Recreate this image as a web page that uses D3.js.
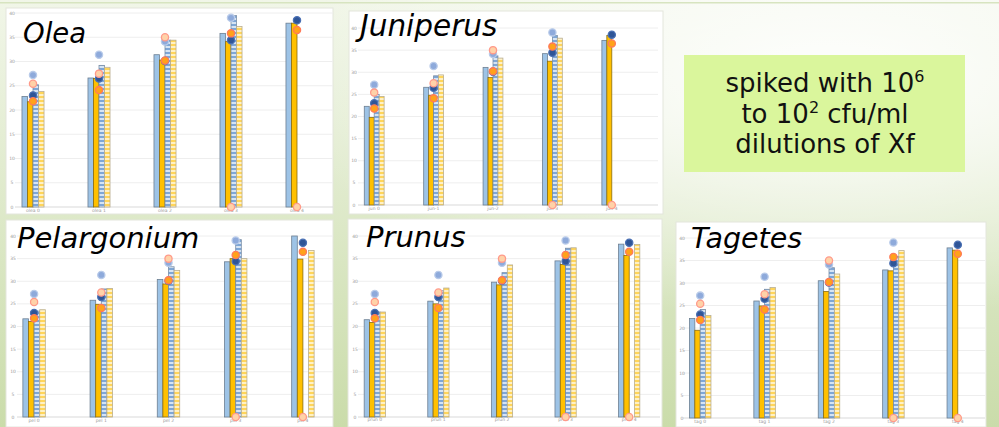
<!DOCTYPE html>
<html><head><meta charset="utf-8">
<script src="https://cdn.jsdelivr.net/npm/d3@7"></script>
<style>html,body{margin:0;padding:0;overflow:hidden;background:#fff}</style>
</head><body><svg id="c" width="999" height="427"></svg>
<script>
// ---------- DATA ----------
const yTicks = [0,5,10,15,20,25,30,35,40];

const oleaLabels = ["olea 0","olea 1","olea 2","olea 3","olea 4"];
const oleaBars = [
  [22.8, 26.6, 31.4, 35.8, 37.9],
  [21.7, 26.5, 30.3, 34.1, 37.9],
  [25.2, 29.2, 34.4, 39.5, null],
  [23.8, 28.8, 34.4, 37.2, null]
];
const junLabels = ["jun 0","jun-1","jun-2","jun-3","jun-4"];
const junBars = [
  [22.3, 26.6, 31.1, 34.2, 37.2],
  [19.8, 24.8, 28.8, 32.5, 38.3],
  [25.0, 29.2, 33.7, 38.3, null],
  [24.5, 29.4, 33.2, 37.7, null]
];
const pelLabels = ["pel 0","pel 1","pel 2","pel 3","pel 4"];
const pelBars = [
  [21.7, 25.8, 30.4, 34.3, 40.0],
  [21.1, 24.9, 29.4, 35.0, 34.9],
  [23.4, 28.3, 33.2, 39.2, null],
  [23.7, 28.4, 32.4, 35.0, 36.8]
];
const prunLabels = ["prun 0","prun 1","prun 2","prun 3","prun 4"];
const prunBars = [
  [21.5, 25.6, 29.8, 34.5, 38.2],
  [20.9, 25.0, 29.2, 33.7, 35.7],
  [23.2, 27.9, 31.9, 37.3, null],
  [23.2, 28.5, 33.6, 37.4, 38.1]
];
const tagLabels = ["tag 0","tag 1","tag 2","tag 3","tag 4"];
const tagBars = [
  [22.1, 26.0, 30.5, 32.9, 37.8],
  [19.5, 24.9, 28.1, 32.7, 37.3],
  [24.1, 28.6, 33.4, 35.9, null],
  [22.8, 29.0, 32.0, 37.2, null]
];
// reference dots (same in every panel)
const dotLightBlue = [27.2, 31.4, 34.1, 39.0, null];
const dotPink      = [25.4, 27.5, 35.0, 0, 0];
const dotDarkBlue  = [23.0, 26.5, 30.1, 34.4, 38.5];
const dotOrange    = [21.8, 24.1, 30.2, 35.8, 36.5];

const noteLines = ["spiked with 10", "to 10", "dilutions of Xf"];

// ---------- LAYOUT ----------
const panels = [
  {title:"Olea", labels:oleaLabels, bars:oleaBars, box:[6,8,333,214], xr:[0,330], yr:[207,13], grid:[15,333], tickX:12, labY:212, tt:[23,43], fs:27.5},
  {title:"Juniperus", labels:junLabels, bars:junBars, box:[349,11,663,214], xr:[344.5,641.5], yr:[205,28], grid:[358,658], tickX:354, labY:210, tt:[360,36], fs:29.5},
  {title:"Pelargonium", labels:pelLabels, bars:pelBars, box:[6,220,333,427], xr:[0.5,336.5], yr:[417,236], grid:[17,333], tickX:13, labY:422, tt:[17,248], fs:29},
  {title:"Prunus", labels:prunLabels, bars:prunBars, box:[348,219,662,427], xr:[343,661], yr:[417,236], grid:[358,660], tickX:355, labY:421, tt:[366,247], fs:29},
  {title:"Tagetes", labels:tagLabels, bars:tagBars, box:[676,222,986,427], xr:[668,990], yr:[418,238], grid:[683,985], tickX:682, labY:423, tt:[691,248], fs:28.5}
];

const svg = d3.select("#c");
const defs = svg.append("defs");

const lg = defs.append("linearGradient").attr("id","bg").attr("x1",0).attr("y1",0).attr("x2",0).attr("y2",1);
lg.append("stop").attr("offset","0%").attr("stop-color","#f1f6e8");
lg.append("stop").attr("offset","100%").attr("stop-color","#cadcaa");
const rg = defs.append("radialGradient").attr("id","bg2").attr("cx",0.83).attr("cy",0.2).attr("r",0.55);
rg.append("stop").attr("offset","0%").attr("stop-color","#ffffff").attr("stop-opacity",1);
rg.append("stop").attr("offset","100%").attr("stop-color","#ffffff").attr("stop-opacity",0);

const p1 = defs.append("pattern").attr("id","pBlue").attr("patternUnits","userSpaceOnUse").attr("width",6).attr("height",4);
p1.append("rect").attr("width",6).attr("height",4).attr("fill","#d6e4f3");
p1.append("rect").attr("width",6).attr("height",2).attr("fill","#7ea6d6");
const p2 = defs.append("pattern").attr("id","pYel").attr("patternUnits","userSpaceOnUse").attr("width",6).attr("height",4);
p2.append("rect").attr("width",6).attr("height",4).attr("fill","#fff1c4");
p2.append("rect").attr("width",6).attr("height",2).attr("fill","#ffd55a");

svg.append("rect").attr("width",999).attr("height",427).attr("fill","url(#bg)");
svg.append("rect").attr("width",999).attr("height",427).attr("fill","url(#bg2)");
svg.append("rect").attr("x",0).attr("y",2).attr("width",999).attr("height",1.5).attr("fill","#d7e4c0");

const barFill = ["#9dc3e6","#ffc000","url(#pBlue)","url(#pYel)"];
const barStroke = ["#6d7f92","#8a6d10","#7a8ea6","#b8ad90"];

const dotSeries = [
  {v:dotLightBlue, fill:"#8eaadb", stroke:"#b9cbe9"},
  {v:dotDarkBlue, fill:"#2f5597", stroke:"#4a70b4"},
  {v:dotPink, fill:"#ffd2a8", stroke:"#ff9a8a"},
  {v:dotOrange, fill:"#ffa21a", stroke:"#ff7a5a"}
];

panels.forEach(p => {
  const g = svg.append("g");
  g.append("rect").attr("x",p.box[0]).attr("y",p.box[1]).attr("width",p.box[2]-p.box[0]).attr("height",p.box[3]-p.box[1])
    .attr("fill","#ffffff").attr("stroke","#e3e6dc").attr("stroke-width",1);
  const x = d3.scaleBand().domain(p.labels).range(p.xr).padding(0);
  const y = d3.scaleLinear().domain([0,40]).range(p.yr);
  const inner = d3.scaleBand().domain([0,1,2,3]).range([-x.bandwidth()*0.167, x.bandwidth()*0.167]).padding(0);

  g.append("g").selectAll("line").data(yTicks).join("line")
    .attr("x1",p.grid[0]).attr("x2",p.grid[1]).attr("y1",d=>y(d)).attr("y2",d=>y(d))
    .attr("stroke", d=> d===0 ? "#d9d9d9" : "#eeeeee").attr("stroke-width",1);
  g.append("g").selectAll("text").data(yTicks).join("text")
    .attr("x",p.tickX).attr("y",d=>y(d)+1.5).attr("text-anchor","middle")
    .attr("font-family","DejaVu Sans").attr("font-size",4.5).attr("fill","#9a9a9a").text(d=>d);
  g.append("g").selectAll("text").data(p.labels).join("text")
    .attr("x",d=>x(d)+x.bandwidth()/2).attr("y",p.labY).attr("text-anchor","middle")
    .attr("font-family","DejaVu Sans").attr("font-size",4.5).attr("fill","#9a9a9a").text(d=>d);

  p.bars.forEach((vals, si) => {
    g.append("g").selectAll("rect").data(vals.map((v,i)=>({v, c:p.labels[i]})).filter(d=>d.v!=null)).join("rect")
      .attr("x", d => x(d.c)+x.bandwidth()/2 + inner(si))
      .attr("width", inner.bandwidth())
      .attr("y", d => y(d.v))
      .attr("height", d => y(0)-y(d.v))
      .attr("fill", barFill[si]).attr("stroke", barStroke[si]).attr("stroke-width",0.8);
  });

  dotSeries.forEach(s => {
    g.append("g").selectAll("circle").data(s.v.map((v,i)=>({v,c:p.labels[i]})).filter(d=>d.v!=null)).join("circle")
      .attr("cx", d => x(d.c)+x.bandwidth()/2)
      .attr("cy", d => y(d.v))
      .attr("r", 3.6)
      .attr("fill", s.fill).attr("stroke", s.stroke).attr("stroke-width",1.3);
  });

  g.append("text").attr("x",p.tt[0]).attr("y",p.tt[1])
    .attr("font-family","DejaVu Sans").attr("font-style","italic").attr("font-size",p.fs).attr("fill","#000").text(p.title);
});

svg.append("rect").attr("x",684).attr("y",55).attr("width",281).attr("height",117).attr("fill","#daf69c");
const nt = svg.append("text").attr("font-family","DejaVu Sans").attr("font-size",26).attr("fill","#111").attr("text-anchor","middle");
const l1 = nt.append("tspan").attr("x",825).attr("y",92);
l1.append("tspan").text(noteLines[0]);
l1.append("tspan").attr("dy",-10).attr("font-size",16).text("6");
const l2 = nt.append("tspan").attr("x",825).attr("y",123);
l2.append("tspan").text(noteLines[1]);
l2.append("tspan").attr("dy",-10).attr("font-size",16).text("2");
l2.append("tspan").attr("dy",10).text(" cfu/ml");
nt.append("tspan").attr("x",825).attr("y",153).text(noteLines[2]);
</script>
</body></html>
